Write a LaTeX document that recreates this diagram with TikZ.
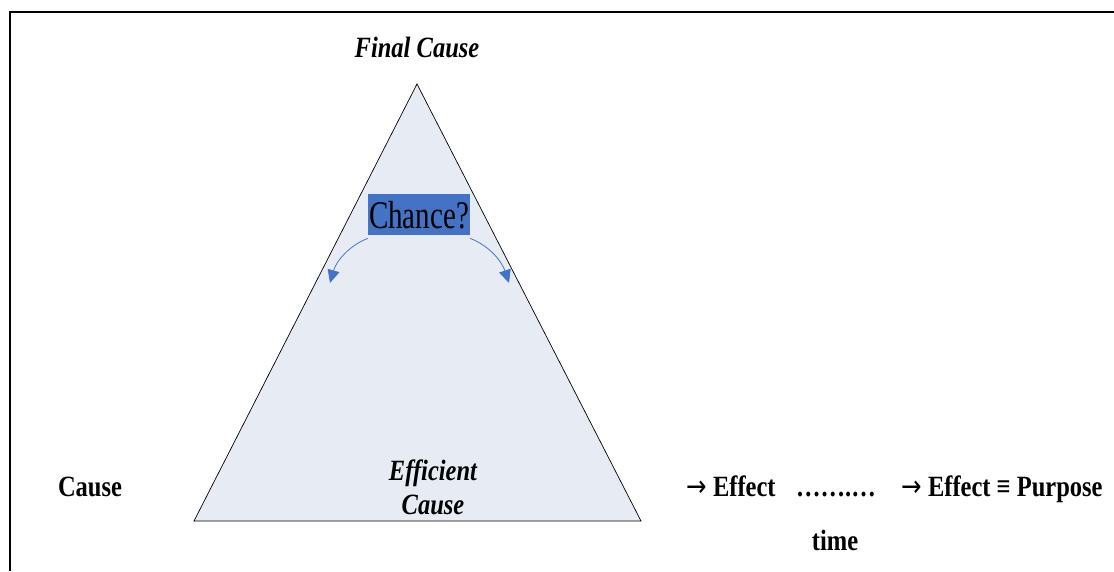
\documentclass[tikz,border=0pt]{standalone}
\usepackage{graphicx}
\usepackage{fontspec}
\setmainfont{Liberation Serif}
\newfontfamily\arrowfont{DejaVu Sans}
\usetikzlibrary{arrows.meta}
\definecolor{triFill}{HTML}{E7EBF4}
\definecolor{officeBlue}{HTML}{4472C4}
% tall, narrow lettering
\newcommand\tall[1]{\scalebox{1}[1.2]{#1}}
\newcommand\rarr{{\arrowfont\mdseries →}}
\tikzset{
  lbl/.style={font=\fontsize{24.5}{29}\selectfont\bfseries, inner sep=0pt, anchor=base},
  ilbl/.style={lbl, font=\fontsize{24.5}{29}\selectfont\bfseries\itshape},
  turn/.style={officeBlue, line width=0.8pt, -{Triangle[width=12pt,length=13pt]}}
}
\begin{document}
\begin{tikzpicture}[x=1pt,y=-1pt]
  \useasboundingbox (0,0) rectangle (1114,571);
  % open frame: only top and left edges
  \draw[line width=2pt] (10,571) -- (10,12) -- (1114,12);
  % the triangle
  \coordinate (apex) at (417,84);
  \coordinate (bl) at (194,521);
  \coordinate (br) at (641,521);
  \filldraw[fill=triFill, draw=black, line width=0.7pt] (apex) -- (bl) -- (br) -- cycle;
  % labels
  \node[ilbl] (final) at (417,57) {\tall{Final Cause}};
  \node[ilbl] (eff1) at (433,480) {\tall{Efficient}};
  \node[ilbl] (eff2) at (433,514) {\tall{Cause}};
  \node[lbl] (cause) at (90,496) {\tall{Cause}};
  \node[lbl] (effect1) at (731,496) {\tall{\rarr\ Effect}};
  \node[lbl] (dots) at (836,496) {\tall{…….…}};
  \node[lbl] (effect2) at (1002,496) {\tall{\rarr\ Effect ≡ Purpose}};
  \node[lbl] (time) at (835,550) {\tall{time}};
  % chance box and its arcs
  \node[fill=officeBlue, anchor=north, inner sep=0pt, text width=102pt, align=center,
        text height=34pt, text depth=7pt,
        font=\fontsize{29}{32}\selectfont] (chance) at (419,194)
        {\scalebox{1}[1.35]{Chance?}};
  \coordinate (lt) at (330,283);
  \coordinate (rt) at (509,283);
  \draw[turn] ([yshift=-3pt]chance.south west) .. controls (348,246) and (336,262) .. (lt);
  \draw[turn] ([yshift=-3pt]chance.south east) .. controls (490,246) and (502,262) .. (rt);
\end{tikzpicture}
\end{document}
